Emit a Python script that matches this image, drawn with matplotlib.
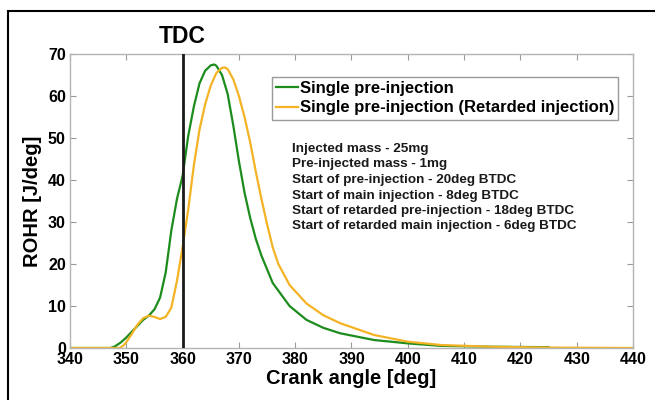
import matplotlib
matplotlib.use("Agg")
import matplotlib.pyplot as plt
from matplotlib.patches import Rectangle

plt.rcParams['font.family'] = ['Liberation Sans', 'DejaVu Sans']
plt.rcParams['font.weight'] = 'bold'

# Single pre-injection (green)
x_single = [340, 347.2, 348, 349, 350, 351, 352, 353, 354, 355, 356, 357, 358, 359, 360,
            361, 362, 363, 364, 365, 365.6, 366, 367, 368, 369, 370, 371, 372, 373, 374,
            376, 379, 382, 385, 388, 394, 400, 406, 415, 425]
y_single = [0, 0, 0.4, 1.3, 2.5, 3.9, 5.3, 6.7, 7.7, 9.2, 12, 18, 28, 35.5, 41,
            50.5, 57.5, 63, 66, 67.3, 67.5, 67.2, 65, 60.5, 53, 44.5, 37, 31, 26, 22,
            15.5, 10, 6.7, 4.8, 3.5, 1.9, 1.1, 0.5, 0.3, 0.2]

# Single pre-injection, retarded injection (yellow)
x_retard = [340, 348.8, 349.5, 350, 351, 352, 353, 354, 355, 356, 357, 358, 359, 360,
            361, 362, 363, 364, 365, 366, 367, 367.5, 368, 369, 370, 371, 372, 373,
            374, 375, 376, 377, 379, 382, 385, 388, 394, 400, 406, 415, 425, 440]
y_retard = [0, 0, 0.6, 1.4, 3.4, 5.6, 7.1, 7.7, 7.4, 6.9, 7.4, 9.6, 16, 24,
            33, 43.5, 52, 58, 62.5, 65.5, 66.7, 66.8, 66.4, 64, 60, 55, 49, 42,
            35.5, 29.5, 24, 20, 15, 10.6, 7.8, 5.9, 3.1, 1.5, 0.7, 0.3, 0.1, 0]

x_ticks = list(range(340, 441, 10))
y_ticks = list(range(0, 71, 10))
legend_labels = ["Single pre-injection", "Single pre-injection (Retarded injection)"]
info_lines = ["Injected mass - 25mg",
              "Pre-injected mass - 1mg",
              "Start of pre-injection - 20deg BTDC",
              "Start of main injection - 8deg BTDC",
              "Start of retarded pre-injection - 18deg BTDC",
              "Start of retarded main injection - 6deg BTDC"]
tdc = 360

W, H = 655, 400
fig = plt.figure(figsize=(W / 100, H / 100), dpi=100)
ax = fig.add_axes([70 / W, 1 - 348 / H, (633 - 70) / W, (348 - 54) / H])

green = '#1c8c1c'
yellow = '#f4b325'
l1, = ax.plot(x_single, y_single, color=green, lw=1.6, label=legend_labels[0])
l2, = ax.plot(x_retard, y_retard, color=yellow, lw=1.6, label=legend_labels[1])
ax.plot([tdc, tdc], [0, 70], color='#1a1a1a', lw=2.0, zorder=5)

ax.set_xlim(340, 440)
ax.set_ylim(0, 70)
ax.set_xticks(x_ticks)
ax.set_yticks(y_ticks)
ax.tick_params(direction='in', length=4, width=0.8, color='#9a9a9a',
               top=True, right=True, labelsize=11.5, pad=3)
for lab in ax.get_xticklabels() + ax.get_yticklabels():
    lab.set_fontweight('bold')
for s in ax.spines.values():
    s.set_color('#b4b4b4')
    s.set_linewidth(1.0)

ax.set_xlabel("Crank angle [deg]", fontsize=14.5, fontweight='bold', labelpad=1)
ax.set_ylabel("ROHR [J/deg]", fontsize=14.5, fontweight='bold', labelpad=4)

ax.text(tdc, 71.5, "TDC", ha='center', va='bottom', fontsize=16.5, fontweight='bold')

leg = ax.legend(handles=[l1, l2], loc='upper left',
                bbox_to_anchor=((272 - 70) / 563, (348 - 77) / 294),
                frameon=True, fancybox=False, edgecolor='#9a9a9a', framealpha=1,
                prop={'size': 12, 'weight': 'bold'}, handlelength=1.3,
                handletextpad=0.1, borderpad=0.25, labelspacing=0.25,
                borderaxespad=0)
leg.get_frame().set_linewidth(1.0)

y_centers = [149, 164.5, 180, 195.5, 211, 226.5]
for txt, yc in zip(info_lines, y_centers):
    fig.text(292 / W, 1 - yc / H, txt, ha='left', va='center', fontsize=9.7,
             fontweight='bold', color='#1a1a1a')

fig.patches.append(Rectangle((8 / W, -0.1), 1.2, 1 - 11 / H + 0.1,
                             transform=fig.transFigure, fill=False,
                             lw=1.5, ec='black'))

fig.savefig("out.png", dpi=100)
